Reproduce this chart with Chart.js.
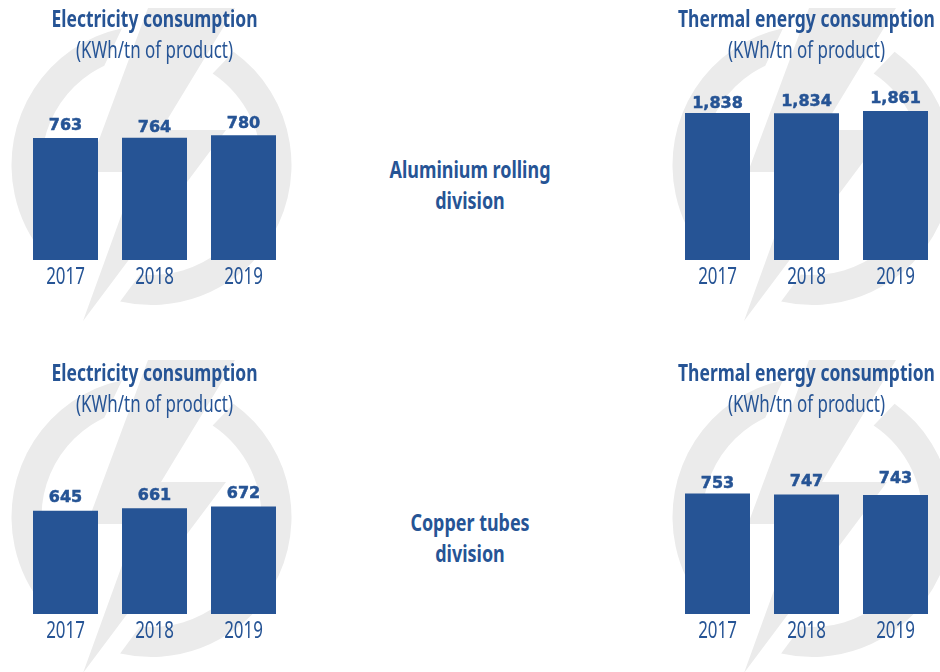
<!DOCTYPE html>
<html>
<head>
<meta charset="utf-8">
<title>Energy consumption</title>
<script src="https://cdn.jsdelivr.net/npm/chart.js@4"></script>
<style>
html, body { margin: 0; padding: 0; width: 940px; height: 672px; overflow: hidden; background: #fff; }
.panel { position: absolute; width: 300px; height: 340px; }
.division { position: absolute; left: 320px; width: 300px; text-align: center; color: #265495;
  font: bold 24px/30.5px "Noto Sans", sans-serif; transform: scaleX(0.747); }
</style>
</head>
<body>
<div class="panel" style="left:0;top:0"><canvas id="alu-electricity"></canvas></div>
<div class="panel" style="left:652px;top:0"><canvas id="alu-thermal"></canvas></div>
<div class="panel" style="left:0;top:354px"><canvas id="cu-electricity"></canvas></div>
<div class="panel" style="left:652px;top:354px"><canvas id="cu-thermal"></canvas></div>
<div class="division" style="top:154px">Aluminium rolling<br>division</div>
<div class="division" style="top:507px">Copper tubes<br>division</div>

<script>
var years = ["2017", "2018", "2019"];
var aluElectricity = [763, 764, 780];
var aluThermal = [1838, 1834, 1861];
var cuElectricity = [645, 661, 672];
var cuThermal = [753, 747, 743];

var blue = "#265495";
var grey = "#ebebeb";
var bodyFont = "'Noto Sans', sans-serif";

//No condensed font is installed, so squeeze the text with the maxWidth of fillText

function condenseText(ctx) {
    var fill = ctx.fillText;
    ctx.fillText = function(text, x, y) {
        if (this.font.indexOf("Noto") < 0) {
            return fill.call(this, text, x, y);
        }
        var factor = this.font.indexOf("bold") >= 0 ? 0.728 : 0.705;
        return fill.call(this, text, x, y, this.measureText(text).width * factor);
    };
}

//Watermark behind the bars

function ringPiece(ctx, x0, y0, x1, y1, x2, y2, x3, y3, back) {
    var cx = 151.5, cy = 165;
    ctx.beginPath();
    ctx.arc(cx, cy, 140, Math.atan2(y0 - cy, x0 - cx), Math.atan2(y1 - cy, x1 - cx), back);
    ctx.arc(cx, cy, 110, Math.atan2(y2 - cy, x2 - cx), Math.atan2(y3 - cy, x3 - cx), !back);
    ctx.closePath();
    ctx.fill();
}

var watermark = {
    id: "watermark",
    beforeDraw: function(chart, args, opts) {
        var ctx = chart.ctx;
        ctx.save();
        ctx.translate(opts.dx, opts.dy);
        ctx.fillStyle = grey;
        ringPiece(ctx, 237, 47, 120, 302, 140, 275, 213, 73, false);
        ringPiece(ctx, 122, 28, 45, 255, 60, 225, 103, 63, true);
        ctx.beginPath();
        ctx.moveTo(148, 8);
        ctx.lineTo(235, 8);
        ctx.lineTo(161, 130);
        ctx.lineTo(226, 130);
        ctx.lineTo(83, 321);
        ctx.lineTo(137, 172);
        ctx.lineTo(87, 172);
        ctx.closePath();
        ctx.fill();
        ctx.restore();
    }
};

//Values above the bars

var valueLabels = {
    id: "valueLabels",
    afterDatasetsDraw: function(chart, args, opts) {
        var ctx = chart.ctx;
        var bars = chart.getDatasetMeta(0).data;
        ctx.save();
        ctx.fillStyle = blue;
        ctx.strokeStyle = blue;
        ctx.lineWidth = 0.5;
        ctx.font = "bold 16px 'DejaVu Sans'";
        ctx.textAlign = "center";
        ctx.textBaseline = "middle";
        bars.forEach(function(bar, i) {
            var text = chart.data.datasets[0].data[i].toLocaleString("en-US");
            ctx.fillText(text, bar.x, bar.y - opts.lift[i]);
            ctx.strokeText(text, bar.x, bar.y - opts.lift[i]);
        });
        ctx.restore();
    }
};

function makeChart(id, title, values, max, lift, dy, dx) {
    var canvas = document.getElementById(id);
    canvas.width = 300;
    canvas.height = 340;
    condenseText(canvas.getContext("2d"));
    return new Chart(canvas, {
        type: "bar",
        data: {
            labels: years,
            datasets: [{
                data: values,
                backgroundColor: blue,
                barPercentage: 65 / 89,
                categoryPercentage: 1
            }]
        },
        options: {
            responsive: false,
            animation: false,
            layout: { padding: { left: 21, right: 12, top: 0, bottom: 45.2 } },
            scales: {
                x: {
                    grid: { display: false, drawTicks: false },
                    border: { display: false },
                    ticks: { color: blue, padding: 3, font: { family: bodyFont, size: 24 } }
                },
                y: { display: false, min: 0, max: max }
            },
            plugins: {
                legend: { display: false },
                tooltip: { enabled: false },
                title: {
                    display: true,
                    text: title,
                    color: blue,
                    fullSize: false,
                    padding: { top: 6, bottom: 1.8 },
                    font: { family: bodyFont, size: 24, weight: "bold" }
                },
                subtitle: {
                    display: true,
                    text: "(KWh/tn of product)",
                    color: blue,
                    fullSize: false,
                    padding: { top: 0, bottom: 4.6 },
                    font: { family: bodyFont, size: 24, weight: "normal" }
                },
                watermark: { dx: dx, dy: dy },
                valueLabels: { lift: lift }
            }
        },
        plugins: [watermark, valueLabels]
    });
}

makeChart("alu-electricity", "Electricity consumption", aluElectricity, 1187.5, [12.5, 9.5, 11.5], 0, 0);
makeChart("alu-thermal", "Thermal energy consumption", aluThermal, 2375, [9, 11, 12], 0, 9);
makeChart("cu-electricity", "Electricity consumption", cuElectricity, 1187.5, [12.5, 12.5, 13], -2, 0);
makeChart("cu-thermal", "Thermal energy consumption", cuThermal, 1187.5, [10, 13, 16.5], -2, 9);
</script>
</body>
</html>
